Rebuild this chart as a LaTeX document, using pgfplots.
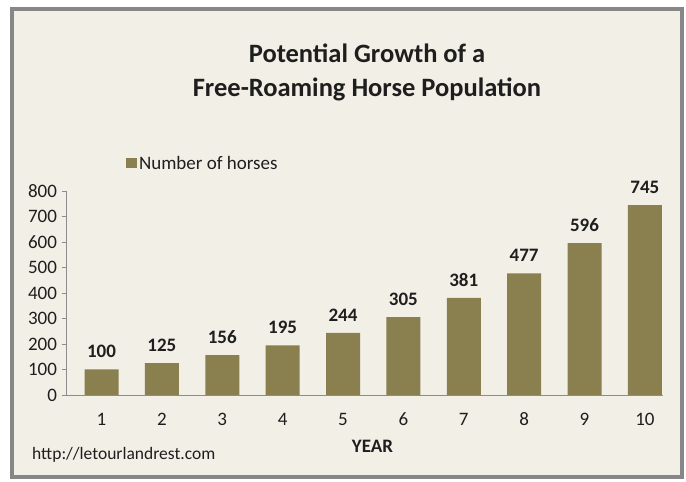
\documentclass[border=0pt]{standalone}
\usepackage{pgfplots}
\pgfplotsset{compat=1.18}
\usepackage{fontspec}
\setmainfont{Carlito}
\definecolor{barc}{RGB}{138,127,78}
\definecolor{bgc}{RGB}{241,239,230}
\definecolor{framec}{RGB}{135,135,135}
\definecolor{txt}{RGB}{30,30,30}
\definecolor{axc}{RGB}{140,140,140}
\begin{document}
\begin{tikzpicture}[x=1bp,y=1bp]
\useasboundingbox (0,0) rectangle (686,482);
\fill[white] (0,0) rectangle (686,482);
\filldraw[fill=bgc, draw=framec, line width=4bp] (12,5) rectangle (682,473);
\node[font=\fontsize{26.5bp}{30bp}\selectfont\bfseries, text=txt, anchor=base, inner sep=0] at (367,419) {Potential Growth of a};
\node[font=\fontsize{26.5bp}{30bp}\selectfont\bfseries, text=txt, anchor=base, inner sep=0] at (367,385) {Free-Roaming Horse Population};
\begin{axis}[
  at={(66.5bp,87bp)}, anchor=south west,
  scale only axis, width=596.5bp, height=204bp,
  ymin=0, ymax=800, xmin=0.42, xmax=10.30,
  axis x line*=bottom, axis y line*=left,
  axis line style={draw=axc, line width=0.8bp},
  xtick={1,...,10}, ytick={0,100,...,800},
  x tick style={draw=none},
  y tick style={draw=axc, line width=0.8bp},
  ytick align=outside, major tick length=5bp,
  /pgf/number format/assume math mode=true,
  tick label style={font=\fontsize{19bp}{22bp}\selectfont, text=txt},
  xticklabel style={yshift=-14.5bp},
  yticklabel style={xshift=-1bp},
  clip=false,
  legend style={at={(0.0998,1.135)}, anchor=west, draw=none, fill=none,
    inner sep=0pt, outer sep=0pt, font=\fontsize{19bp}{22bp}\selectfont, text=txt},
  legend cell align=left,
  legend image code/.code={\fill[barc] (0bp,-5bp) rectangle (11bp,5bp);},
  nodes near coords,
  nodes near coords style={font=\fontsize{19bp}{22bp}\selectfont\bfseries, text=txt, anchor=south, yshift=8bp},
]
\addplot[ybar, bar width=34bp, fill=barc, draw=none] coordinates {
(1,100) (2,125) (3,156) (4,195) (5,244) (6,305) (7,381) (8,477) (9,596) (10,745)
};
\addlegendentry{Number of horses}
\end{axis}
\node[font=\fontsize{19bp}{22bp}\selectfont\bfseries, text=txt, anchor=base, inner sep=0] at (372.5,29) {YEAR};
\node[font=\fontsize{17.5bp}{20bp}\selectfont, text=txt, anchor=base west, inner sep=0] at (32,22) {http://letourlandrest.com};
\end{tikzpicture}
\end{document}
